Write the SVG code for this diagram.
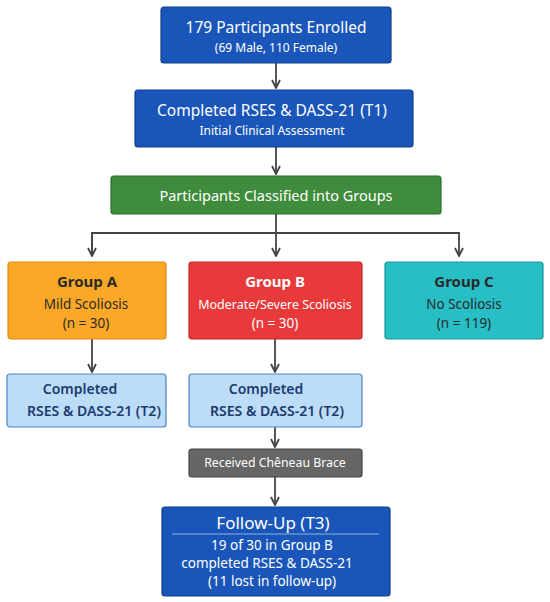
<svg xmlns="http://www.w3.org/2000/svg" width="550" height="602" viewBox="0 0 550 602">
<defs>
<marker id="ah" viewBox="0 0 10 10" refX="9" refY="5" markerWidth="10" markerHeight="10" markerUnits="userSpaceOnUse" orient="auto">
<path d="M1,1 L9,5 L1,9" fill="none" stroke="#444" stroke-width="1.8"/>
</marker>
<style>
text{font-family:"Noto Sans","Open Sans","DejaVu Sans",sans-serif;text-anchor:middle}
.blue{fill:#1a56b9;stroke:#0f3f8e;stroke-width:1.2}
.green{fill:#3f8c3c;stroke:#2c6b2a;stroke-width:1.2}
.orange{fill:#fba827;stroke:#e08a10;stroke-width:1.2}
.red{fill:#e83a3a;stroke:#c42828;stroke-width:1.2}
.teal{fill:#27bec6;stroke:#16979e;stroke-width:1.2}
.light{fill:#bcdcf7;stroke:#4f84c4;stroke-width:1.2}
.gray{fill:#666;stroke:#444;stroke-width:1.2}
.w{fill:#fff}
.d{fill:#2a2a2a}
.n{fill:#1c3b6e}
.conn{fill:none;stroke:#444;stroke-width:1.8}
</style>
</defs>
<g id="connectors">
<line class="conn" x1="276" y1="63" x2="276" y2="88" marker-end="url(#ah)"/>
<line class="conn" x1="276" y1="147" x2="276" y2="174" marker-end="url(#ah)"/>
<line class="conn" x1="276" y1="214" x2="276" y2="256" marker-end="url(#ah)"/>
<polyline class="conn" points="92,256 92,233 459,233 459,256" marker-end="url(#ah)"/>
<line class="conn" x1="92" y1="233" x2="92" y2="256" marker-end="url(#ah)"/>
<line class="conn" x1="92" y1="339" x2="92" y2="372" marker-end="url(#ah)"/>
<line class="conn" x1="275" y1="339" x2="275" y2="372" marker-end="url(#ah)"/>
<line class="conn" x1="275" y1="427" x2="275" y2="447" marker-end="url(#ah)"/>
<line class="conn" x1="275" y1="477" x2="275" y2="505" marker-end="url(#ah)"/>
</g>
<g id="enrolled">
<rect class="blue" x="161" y="7" width="230" height="56" rx="3"/>
<text class="w" x="276" y="33" font-size="15.5">179 Participants Enrolled</text>
<text class="w" x="276" y="52" font-size="12">(69 Male, 110 Female)</text>
</g>
<g id="t1">
<rect class="blue" x="135" y="90" width="278" height="57" rx="3"/>
<text class="w" x="272" y="116" font-size="15.5">Completed RSES &amp; DASS-21 (T1)</text>
<text class="w" x="272" y="135" font-size="12">Initial Clinical Assessment</text>
</g>
<g id="classified">
<rect class="green" x="111" y="176" width="330" height="38" rx="3"/>
<text class="w" x="276" y="201" font-size="14.5">Participants Classified into Groups</text>
</g>
<g id="groupA">
<rect class="orange" x="8" y="262" width="158" height="77" rx="3"/>
<text class="d" x="87" y="287" font-size="15" font-weight="bold">Group A</text>
<text class="d" x="86" y="309" font-size="13.5">Mild Scoliosis</text>
<text class="d" x="86" y="328" font-size="13.5">(n = 30)</text>
</g>
<g id="groupB">
<rect class="red" x="189" y="262" width="173" height="77" rx="3"/>
<text class="w" x="275" y="287" font-size="15" font-weight="bold">Group B</text>
<text class="w" x="275" y="309" font-size="12.5">Moderate/Severe Scoliosis</text>
<text class="w" x="275" y="328" font-size="13.5">(n = 30)</text>
</g>
<g id="groupC">
<rect class="teal" x="385" y="262" width="158" height="77" rx="3"/>
<text class="d" x="464" y="287" font-size="15" font-weight="bold">Group C</text>
<text class="d" x="464" y="309" font-size="13.5">No Scoliosis</text>
<text class="d" x="464" y="328" font-size="13.5">(n = 119)</text>
</g>
<g id="a_t2">
<rect class="light" x="7" y="374" width="159" height="53" rx="3"/>
<text class="n" x="80" y="394" font-size="14" font-weight="600">Completed</text>
<text class="n" x="94" y="416" font-size="14" font-weight="600">RSES &amp; DASS-21 (T2)</text>
</g>
<g id="b_t2">
<rect class="light" x="189" y="374" width="173" height="53" rx="3"/>
<text class="n" x="266" y="394" font-size="14" font-weight="600">Completed</text>
<text class="n" x="277" y="416" font-size="14" font-weight="600">RSES &amp; DASS-21 (T2)</text>
</g>
<g id="brace">
<rect class="gray" x="189" y="449" width="173" height="28" rx="3"/>
<text class="w" x="275" y="467" font-size="12.3">Received Chêneau Brace</text>
</g>
<g id="followup">
<rect class="blue" x="162" y="507" width="228" height="89" rx="3"/>
<text class="w" x="273" y="529" font-size="17">Follow-Up (T3)</text>
<line x1="172" y1="534" x2="379" y2="534" stroke="#8fb0e0" stroke-width="1"/>
<text class="w" x="272" y="550" font-size="13.5">19 of 30 in Group B</text>
<text class="w" x="267" y="568" font-size="13.5">completed RSES &amp; DASS-21</text>
<text class="w" x="272" y="586" font-size="13.5">(11 lost in follow-up)</text>
</g>
</svg>
